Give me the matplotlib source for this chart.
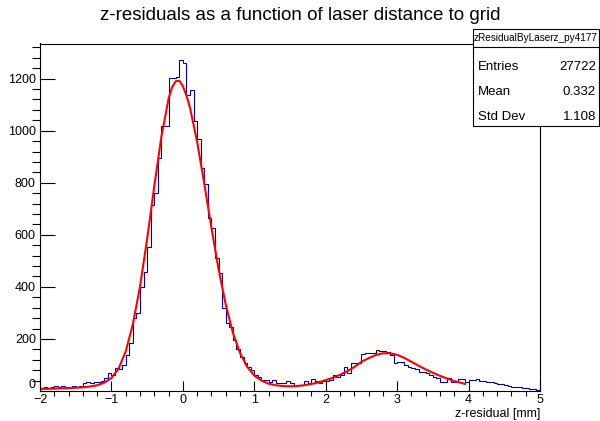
import numpy as np
import matplotlib
matplotlib.use("Agg")
import matplotlib.pyplot as plt
from matplotlib.patches import Rectangle
from matplotlib.lines import Line2D
from matplotlib.ticker import MultipleLocator

plt.rcParams['font.family'] = ['Liberation Sans', 'DejaVu Sans']

# histogram binning (-2 .. 5 mm, 140 bins)
x_min, x_max, n_bins = -2.0, 5.0, 140

counts = [
    12, 14, 10, 16, 18, 15, 20, 17, 14, 18, 15, 19,
    30, 33, 32, 34, 33, 40, 50, 68, 62, 88, 86, 100, 140, 186,
    280, 301, 401, 459, 555, 715, 760, 895, 1017, 1017,
    1203, 1203, 1207, 1270, 1262, 1138, 1155, 1036, 968, 856,
    796, 664, 626, 510, 453, 318, 260, 244, 195, 160,
    130, 106, 94, 81, 62, 53, 42, 42, 33, 42,
    30, 32, 32, 38, 32, 20, 23, 23, 40, 30,
    45, 38, 32, 38, 38, 42, 62, 54, 62, 92,
    68, 106, 106, 106, 142, 145, 145, 146, 158, 155,
    153, 151, 138, 106, 110, 110, 100, 91, 87, 83,
    74, 74, 68, 62, 55, 49, 36, 36, 49, 36,
    36, 45, 45, 36, 42, 42, 45, 39, 39, 36,
    33, 30, 28, 25, 22, 19, 17, 14, 16, 10,
    10, 6, 7, 5,
]

# fitted curve
fit_x = [-2.0, -1.8, -1.6, -1.4, -1.3, -1.2, -1.1, -1.0, -0.9, -0.8,
         -0.7, -0.6, -0.5, -0.4, -0.3, -0.2, -0.15, -0.1, -0.05, 0.0,
         0.05, 0.1, 0.2, 0.3, 0.4, 0.5, 0.6, 0.7, 0.8, 0.9,
         1.0, 1.1, 1.2, 1.3, 1.4, 1.5, 1.6, 1.7, 1.8, 1.9,
         2.0, 2.1, 2.2, 2.3, 2.4, 2.5, 2.6, 2.7, 2.8, 2.9,
         3.0, 3.1, 3.2, 3.3, 3.4, 3.5, 3.6, 3.7, 3.8, 3.9, 3.95]
fit_y = [8, 9, 11, 14, 17, 22, 32, 50, 86, 152,
         256, 401, 584, 787, 978, 1123, 1168, 1190, 1192, 1171,
         1135, 1088, 957, 796, 627, 468, 332, 224, 146, 93,
         59, 40, 28, 22, 19, 18, 19, 22, 27, 33,
         42, 51, 62, 76, 92, 112, 126, 138, 145, 145,
         139, 127, 112, 97, 83, 70, 58, 48, 38, 31, 27]

y_ticks = [0, 200, 400, 600, 800, 1000, 1200]
title = "z-residuals as a function of laser distance to grid"
x_label = "z-residual [mm]"
stats_name = "zResidualByLaserz_py4177"
stats_rows = [("Entries", "27722"), ("Mean", "0.332"), ("Std Dev", "1.108")]

W, H = 600, 421
fig = plt.figure(figsize=(W / 100, H / 100), dpi=100)

# frame in pixels: left 40, right 540, top 43.5, bottom 391
ax = fig.add_axes([40 / W, 1 - 391 / H, 500 / W, (391 - 43.5) / H])

edges = np.linspace(x_min, x_max, n_bins + 1)
ax.stairs(counts, edges, color='#0000a0', lw=0.8)
ax.plot(fit_x, fit_y, color='#ff0000', lw=1.5)

ax.set_xlim(x_min, x_max)
ax.set_ylim(0, 1335)

ax.xaxis.set_major_locator(MultipleLocator(1))
ax.xaxis.set_minor_locator(MultipleLocator(0.2))
ax.set_yticks(y_ticks)
ax.set_yticklabels([str(v) for v in y_ticks])
ax.yaxis.set_minor_locator(MultipleLocator(40))
# like ROOT, lift the "0" label off the corner
ax.get_yticklabels()[0].set_verticalalignment('bottom')
ax.tick_params(axis='both', direction='in', labelsize=9, width=0.8,
               top=False, right=False)
ax.tick_params(axis='x', which='major', length=7.5, pad=2.5)
ax.tick_params(axis='x', which='minor', length=3.8, width=0.8)
ax.tick_params(axis='y', which='major', length=11, pad=3)
ax.tick_params(axis='y', which='minor', length=5.5, width=0.8)
for s in ax.spines.values():
    s.set_linewidth(0.8)

fig.text(540 / W, 1 - 414.5 / H, x_label, ha='right', va='center', fontsize=9)
fig.text(300 / W, 1 - 15 / H, title, ha='center', va='center', fontsize=13.5)

# stats box
bx0, bx1, by0, by1, bsep = 473, 599, 29, 126, 46.5
fig.patches.append(Rectangle((bx0 / W, 1 - by1 / H), (bx1 - bx0) / W,
                             (by1 - by0) / H, transform=fig.transFigure,
                             facecolor='white', edgecolor='black', lw=0.8,
                             zorder=5))
fig.lines.append(Line2D([bx0 / W, bx1 / W], [1 - bsep / H, 1 - bsep / H],
                        transform=fig.transFigure, color='black', lw=0.8,
                        zorder=6))
fig.text((bx0 + bx1) / 2 / W, 1 - 38 / H, stats_name, ha='center',
         va='center', fontsize=7.2, zorder=7)
for i, (name, val) in enumerate(stats_rows):
    yy = 1 - (67 + 25 * i) / H
    fig.text(478 / W, yy, name, ha='left', va='center', fontsize=9.5, zorder=7)
    fig.text(596 / W, yy, val, ha='right', va='center', fontsize=9.5, zorder=7)

fig.savefig('out.png', dpi=100)
